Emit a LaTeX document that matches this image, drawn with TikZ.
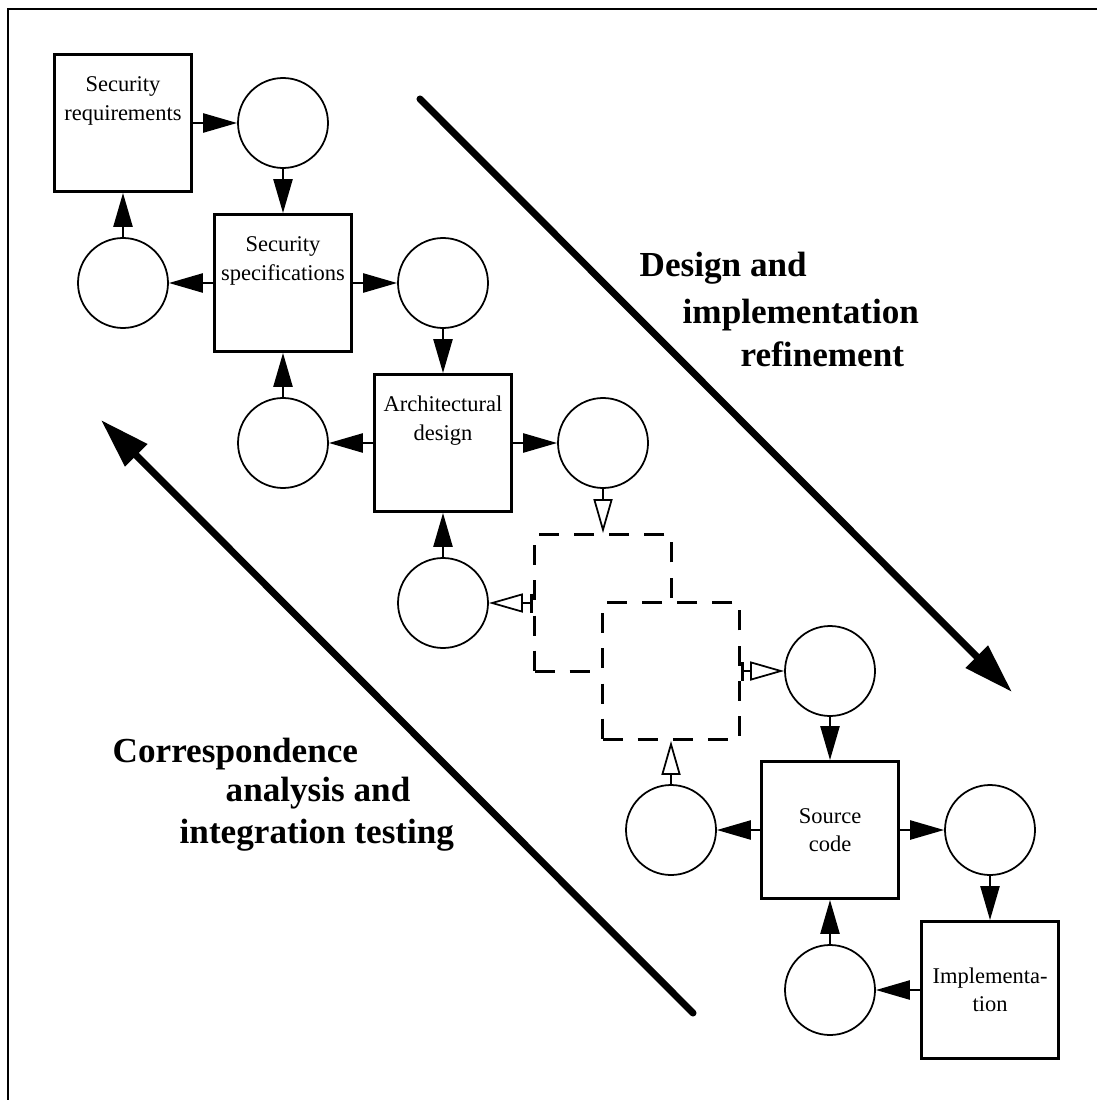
\documentclass[tikz,border=0pt]{standalone}
\usepackage{fontspec}
\setmainfont{Liberation Serif}
\usetikzlibrary{arrows.meta}

\newcommand\boxfont{\fontsize{6.4}{8}\selectfont}
\newcommand\phasefont{\fontsize{10}{12.8}\selectfont\bfseries}

\begin{document}
\begin{tikzpicture}[
	block/.style={draw, line width=0.8pt, minimum size=1.37cm, inner sep=0pt, align=center, font=\boxfont},
	uptext/.style={text height=12.5pt, text depth=14.2pt},
	dashblock/.style={draw, line width=0.8pt, dash pattern=on 5.7pt off 4.3pt, fill=white, minimum size=1.37cm, inner sep=0pt},
	place/.style={draw, circle, line width=0.5pt, minimum size=0.9cm, inner sep=0pt},
	fwd/.style={line width=0.7pt, -{Triangle[length=0.34cm,width=0.19cm]}},
	hollow/.style={line width=0.5pt, -{Triangle[open,length=0.34cm,width=0.19cm]}},
	barhollow/.style={line width=0.5pt, {Bar[width=0.19cm,line width=0.8pt]}-{Triangle[open,length=0.34cm,width=0.19cm]}},
	phase/.style={line width=2pt, line cap=round, -{Triangle[length=0.5cm,width=0.3cm]}},
	phasetext/.style={anchor=base west, inner sep=0pt, font=\phasefont}
]
	\useasboundingbox (0,0) rectangle (10.97,-11);
	
	%Rahmen
	\draw[line width=0.8pt] (10.97,-0.09)--(0.08,-0.09)--(0.08,-11);
	
	%Kaesten
	\node[block, uptext] (req) at (1.23,-1.23) {Security\\requirements};
	\node[block, uptext] (spec) at (2.83,-2.83) {Security\\specifications};
	\node[block, uptext] (arch) at (4.43,-4.43) {Architectural\\design};
	\node[dashblock] (dA) at (6.03,-6.03) {};
	\node[dashblock] (dB) at (6.71,-6.71) {};
	\node[block] (src) at (8.30,-8.30) {Source\\code};
	\node[block] (impl) at (9.90,-9.90) {Implementa-\\tion};
	
	%Kreise
	\foreach \n/\x/\y in {p1/2.83/-1.23, p2/1.23/-2.83, p3/4.43/-2.83, p4/2.83/-4.43, p5/6.03/-4.43,
		p6/4.43/-6.03, p7/8.30/-6.71, p8/6.71/-8.30, p9/9.90/-8.30, p10/8.30/-9.90}
		\node[place] (\n) at (\x,\y) {};
	
	%oben
	\draw[fwd] (req)--(p1);
	\draw[fwd] (p1)--(spec);
	\draw[fwd] (spec)--(p2);
	\draw[fwd] (p2)--(req);
	\draw[fwd] (spec)--(p3);
	\draw[fwd] (p3)--(arch);
	\draw[fwd] (arch)--(p4);
	\draw[fwd] (p4)--(spec);
	\draw[fwd] (arch)--(p5);
	\draw[fwd] (p6)--(arch);
	
	%gestrichelt
	\draw[hollow] (p5)--(dA);
	\draw[barhollow] (dA)--(p6);
	\draw[barhollow] (dB)--(p7);
	\draw[hollow] (p8)--(dB);
	
	%unten
	\draw[fwd] (p7)--(src);
	\draw[fwd] (src)--(p8);
	\draw[fwd] (src)--(p9);
	\draw[fwd] (p9)--(impl);
	\draw[fwd] (impl)--(p10);
	\draw[fwd] (p10)--(src);
	
	%Pfeile + Text
	\coordinate (refStart) at (4.20,-0.99);
	\coordinate (refEnd) at (10.12,-6.92);
	\draw[phase] (refStart)--(refEnd);
	\coordinate (corStart) at (6.93,-10.13);
	\coordinate (corEnd) at (1.01,-4.20);
	\draw[phase] (corStart)--(corEnd);
	
	\node[phasetext] (ref1) at (6.39,-2.76) {Design and};
	\node[phasetext] (ref2) at (6.82,-3.23) {implementation};
	\node[phasetext] (ref3) at (7.40,-3.66) {refinement};
	\node[phasetext] (cor1) at (1.12,-7.62) {Correspondence};
	\node[phasetext] (cor2) at (2.25,-8.01) {analysis and};
	\node[phasetext] (cor3) at (1.79,-8.43) {integration testing};
	
\end{tikzpicture}
\end{document}
